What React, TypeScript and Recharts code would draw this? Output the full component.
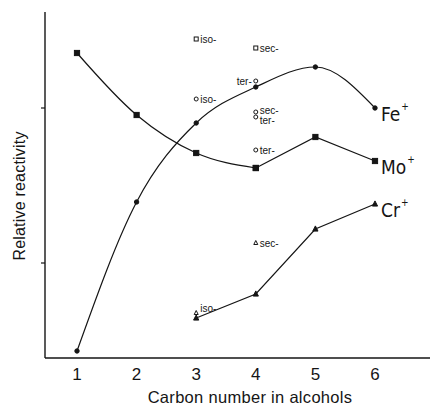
import React from 'react';
import { ComposedChart, Line, Scatter, XAxis, YAxis } from 'recharts';

// ---- data ----
const carbonNumbers = [1, 2, 3, 4, 5, 6];
const feValues = [7, 156, 235, 271, 291, 250];
const moValues = [305, 243, 205, 190, 221, 197];
const crCarbon = [3, 4, 5, 6];
const crValues = [40, 64, 129, 154];
const xTicks = [1, 2, 3, 4, 5, 6];
const yTicks = [95, 250];

// isomer (branched alcohol) points
const isoCarbon = [3, 4, 3, 4, 4, 4, 4, 3, 4];
const isoValues = [319, 310, 259, 277, 246, 241, 208, 45, 115];
const isoNames = ['iso-', 'sec-', 'iso-', 'ter-', 'sec-', 'ter-', 'ter-', 'iso-', 'sec-'];
const isoShapes = ['square', 'square', 'circle', 'circle', 'circle', 'circle', 'circle', 'triangle', 'triangle'];
const isoLabelSide = ['right', 'right', 'right', 'left', 'right', 'right', 'right', 'right', 'right'];
const isoLabelShift = [0, 0, 0, 0, -2, 3, 0, -5, 0];

const seriesNames = ['Fe', 'Mo', 'Cr'];

const feData = carbonNumbers.map((x, i) => ({ x, y: feValues[i] }));
const moData = carbonNumbers.map((x, i) => ({ x, y: moValues[i] }));
const moCurvePart = moData.slice(0, 4);
const moPeakPart = moData.slice(3);
const crData = crCarbon.map((x, i) => ({ x, y: crValues[i] }));
const isoData = isoCarbon.map((x, i) => ({ x, y: isoValues[i], i }));

const INK = '#151515';
const FONT = "'Liberation Sans', 'DejaVu Sans', sans-serif";
const NARROW = "'Liberation Sans Narrow', 'DejaVu Sans Condensed', sans-serif";

function marker(shape: string, cx: number, cy: number, filled: boolean, r: number) {
  const fill = filled ? INK : '#fff';
  if (shape === 'square') {
    return <rect x={cx - r} y={cy - r} width={2 * r} height={2 * r} fill={fill} stroke={INK} strokeWidth={1} />;
  }
  if (shape === 'triangle') {
    return (
      <polygon
        points={`${cx},${cy - r - 0.5} ${cx - r},${cy + r - 0.5} ${cx + r},${cy + r - 0.5}`}
        fill={fill}
        stroke={INK}
        strokeWidth={1}
      />
    );
  }
  return <circle cx={cx} cy={cy} r={r} fill={fill} stroke={INK} strokeWidth={1} />;
}

function makeDot(shape: string, name: string, count: number) {
  return (props: any) => {
    const { cx, cy, index } = props;
    if (cx == null || cy == null) return <g key={`d-${name}-${index}`} />;
    const r = shape === 'circle' ? 2.2 : 2.6;
    return (
      <g key={`d-${shape}-${name}-${index}`}>
        {marker(shape, cx, cy, true, r)}
        {name && index === count - 1 ? (
          <text x={cx + 6} y={cy + 13} fontFamily={NARROW} fontSize={19} fill={INK}>
            {name}
            <tspan dx={1} dy={-11} fontSize={10}>+</tspan>
          </text>
        ) : null}
      </g>
    );
  };
}

const IsoShape = (props: any) => {
  const { cx, cy, payload } = props;
  const i = payload.i;
  const side = isoLabelSide[i];
  const shift = isoLabelShift[i];
  return (
    <g>
      {marker(isoShapes[i], cx, cy, false, 2)}
      <text
        x={side === 'left' ? cx - 4 : cx + 4}
        y={cy + 3.5 + shift}
        textAnchor={side === 'left' ? 'end' : 'start'}
        fontFamily={FONT}
        fontSize={10}
        fill={INK}
      >
        {isoNames[i]}
      </text>
    </g>
  );
};

export default function App() {
  return (
    <div style={{ position: 'absolute', left: 0, top: 0, background: '#fff' }}>
      <ComposedChart width={434} height={405} margin={{ top: 12, right: 4, bottom: 0, left: 0 }}>
        <XAxis
          type="number"
          dataKey="x"
          domain={[0.463, 6.923]}
          ticks={xTicks}
          allowDataOverflow
          height={47}
          tickLine={false}
          tickSize={0}
          tickMargin={10}
          axisLine={{ stroke: INK, strokeWidth: 1.4 }}
          tick={{ fontSize: 17, fill: INK, fontFamily: FONT }}
        />
        <YAxis
          type="number"
          dataKey="y"
          domain={[0, 346]}
          ticks={yTicks}
          allowDataOverflow
          width={45}
          tickSize={4}
          tickFormatter={() => ''}
          tickLine={{ stroke: INK, strokeWidth: 1.2 }}
          axisLine={{ stroke: INK, strokeWidth: 1.4 }}
        />
        <Line
          data={feData}
          dataKey="y"
          type="monotone"
          stroke={INK}
          strokeWidth={1.2}
          dot={makeDot('circle', seriesNames[0], feData.length)}
          isAnimationActive={false}
        />
        <Line
          data={moCurvePart}
          dataKey="y"
          type="monotone"
          stroke={INK}
          strokeWidth={1.2}
          dot={makeDot('square', '', moCurvePart.length)}
          isAnimationActive={false}
        />
        <Line
          data={moPeakPart}
          dataKey="y"
          type="linear"
          stroke={INK}
          strokeWidth={1.2}
          dot={makeDot('square', seriesNames[1], moPeakPart.length)}
          isAnimationActive={false}
        />
        <Line
          data={crData}
          dataKey="y"
          type="linear"
          stroke={INK}
          strokeWidth={1.2}
          dot={makeDot('triangle', seriesNames[2], crData.length)}
          isAnimationActive={false}
        />
        <Scatter data={isoData} dataKey="y" shape={IsoShape} isAnimationActive={false} />
        <text x={250} y={403} textAnchor="middle" fontFamily={FONT} fontSize={16.5} letterSpacing={0.3} fill={INK}>
          Carbon number in alcohols
        </text>
        <text
          x={19}
          y={196}
          transform="rotate(-90 19 196)"
          textAnchor="middle"
          dominantBaseline="central"
          fontFamily={FONT}
          fontSize={16}
          letterSpacing={0.2}
          fill={INK}
        >
          Relative reactivity
        </text>
      </ComposedChart>
    </div>
  );
}
